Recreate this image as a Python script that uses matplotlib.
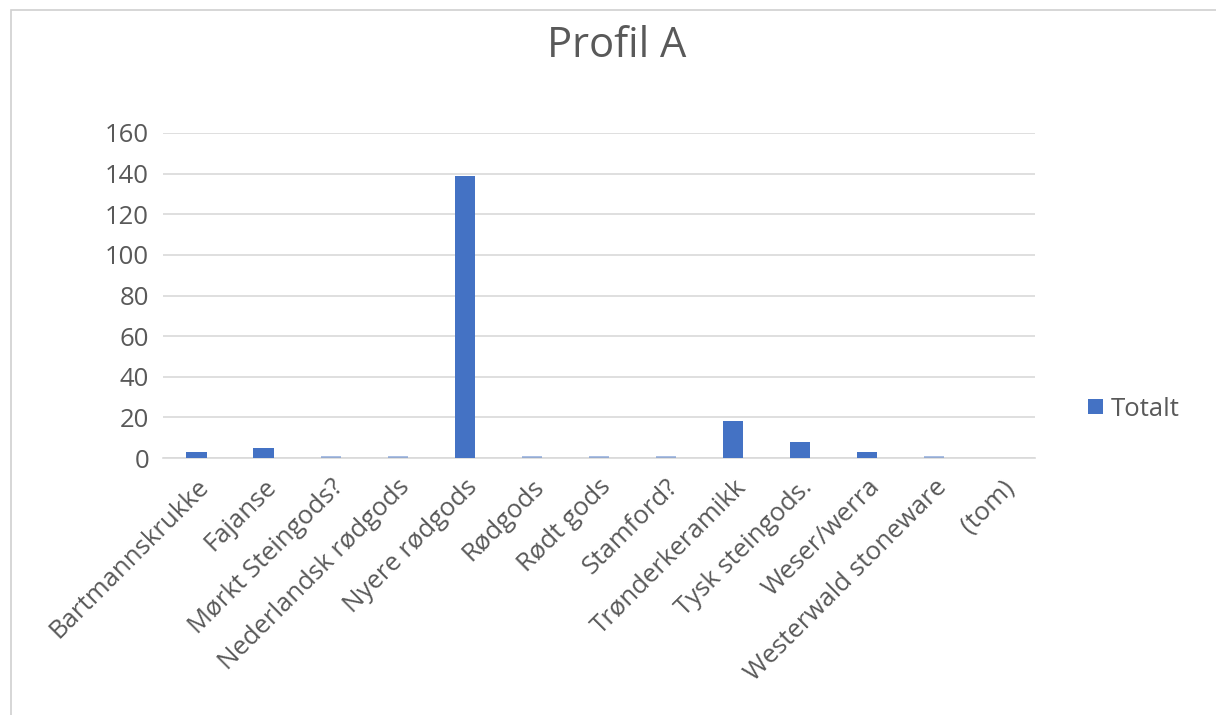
import matplotlib.pyplot as plt
from matplotlib.patches import Rectangle

categories = ["Bartmannskrukke", "Fajanse", "Mørkt Steingods?", "Nederlandsk rødgods",
              "Nyere rødgods", "Rødgods", "Rødt gods", "Stamford?", "Trønderkeramikk",
              "Tysk steingods.", "Weser/werra", "Westerwald stoneware", "(tom)"]
totalt = [3, 5, 1, 1, 139, 1, 1, 1, 18, 8, 3, 1, 0]
yticks = [0, 20, 40, 60, 80, 100, 120, 140, 160]

plt.rcParams['font.family'] = ['Open Sans', 'DejaVu Sans']
txt = '#595959'

fig = plt.figure(figsize=(12.16, 7.15), dpi=100)
ax = fig.add_axes([0.134, 0.3594, 0.717, 0.4546])

x = list(range(len(categories)))
bars = ax.bar(x, totalt, width=0.3, color='#4472c4', label='Totalt', zorder=3)
for b, v in zip(bars, totalt):
	if v <= 1:
		b.set_alpha(0.45)

ax.set_xlim(-0.5, len(categories) - 0.5)
ax.set_ylim(0, 160)
ax.set_yticks(yticks)
ax.grid(axis='y', color='#d9d9d9', linewidth=1.2, zorder=0)
for s in ['top', 'right', 'left']:
	ax.spines[s].set_visible(False)
ax.spines['bottom'].set_color('#d9d9d9')
ax.spines['bottom'].set_linewidth(1.2)
ax.tick_params(axis='y', length=0, labelsize=18.5, colors=txt, pad=10)
ax.tick_params(axis='x', length=0, labelsize=18.5, colors=txt, pad=12)
ax.set_xticks(x)
ax.set_xticklabels(categories, rotation=45, ha='right', rotation_mode='anchor')

fig.suptitle("Profil A", fontsize=30, color=txt, x=0.507, y=0.965)

ax.legend(loc='center left', bbox_to_anchor=(1.035, 0.15), frameon=False,
          fontsize=18.5, labelcolor=txt, handlelength=0.55, handleheight=0.55, handletextpad=0.3)

fig.patches.append(Rectangle((0.009, -0.01), 1.1, 0.996, transform=fig.transFigure,
                             fill=False, edgecolor='#d0d0d0', linewidth=1.2))

fig.savefig('out.png', dpi=100)
